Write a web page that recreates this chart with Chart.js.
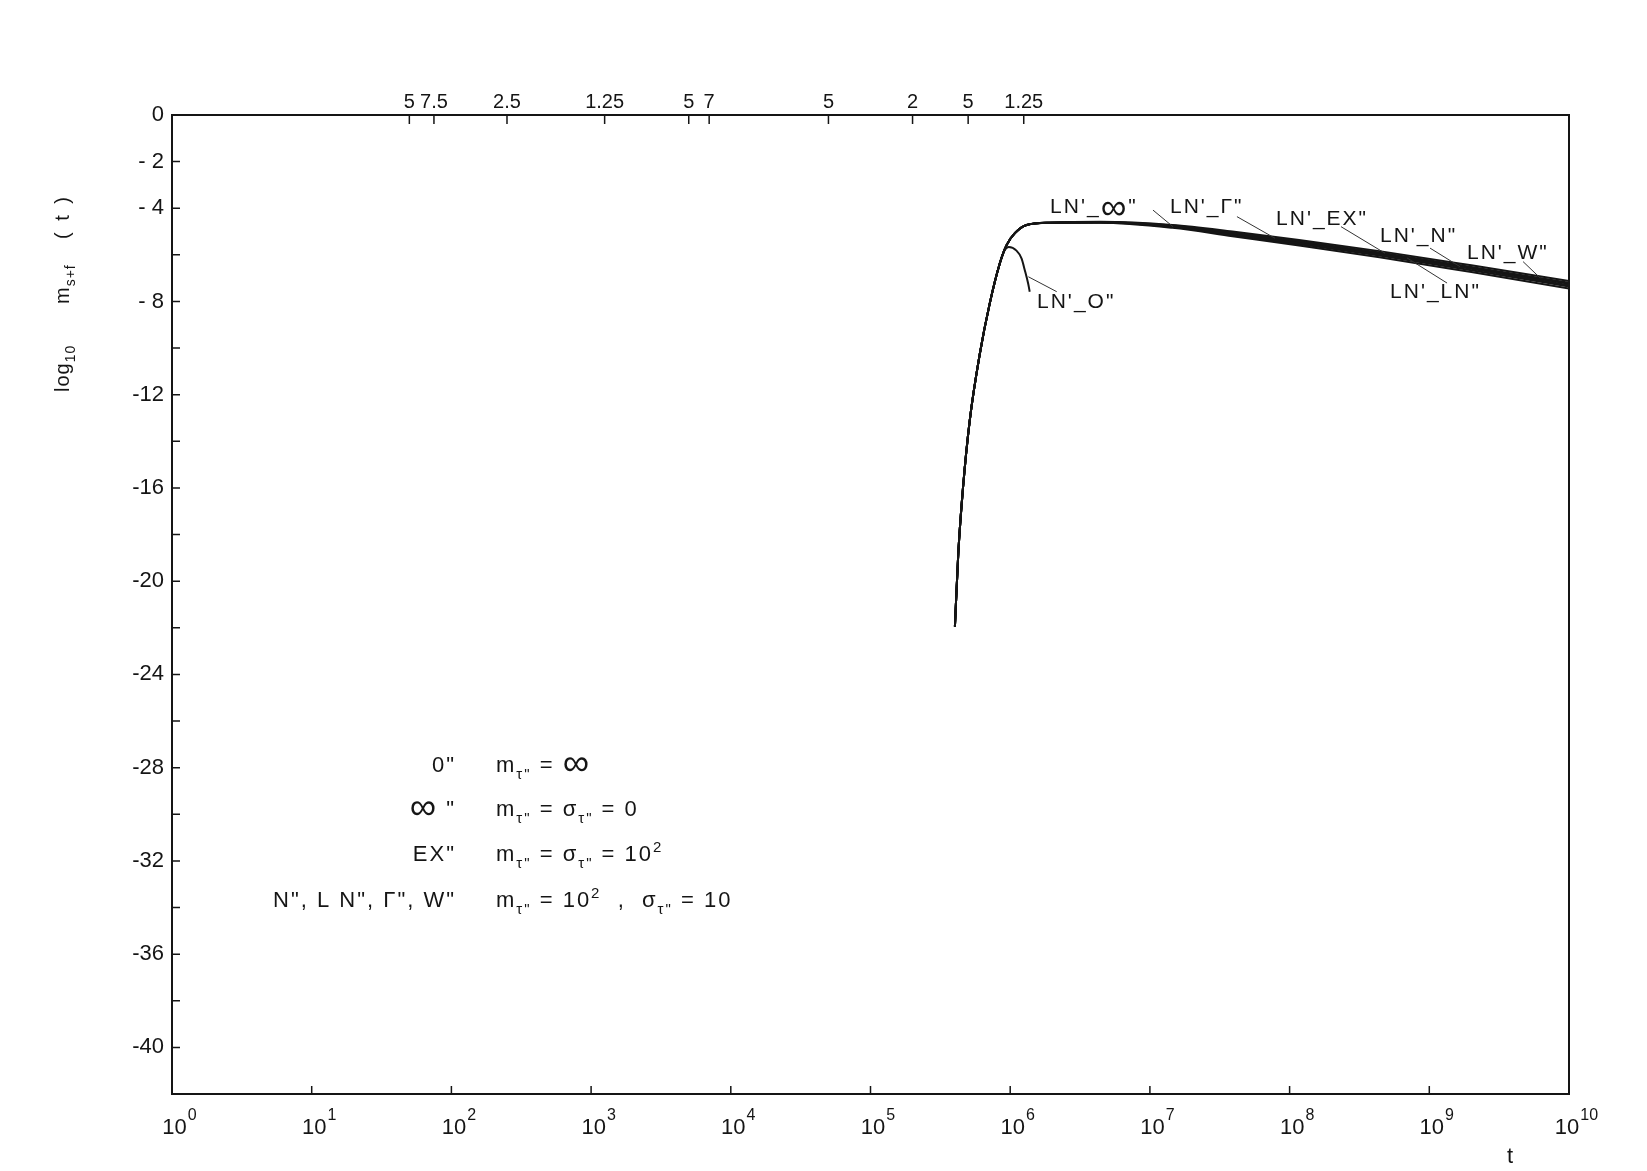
<!DOCTYPE html>
<html>
<head>
<meta charset="utf-8">
<script src="https://cdn.jsdelivr.net/npm/chart.js@4.4.1/dist/chart.umd.min.js"></script>
<style>
  html, body { margin: 0; padding: 0; background: #ffffff; }
  #wrap { width: 1647px; height: 1171px; }
</style>
</head>
<body>
<div id="wrap"><canvas id="c" width="1647" height="1171"></canvas></div>
<script>
// ---------------- DATA ----------------
// bottom axis (t, log scale): tick values, mantissa text and exponent text
const bottomTickValues = [1, 10, 100, 1e3, 1e4, 1e5, 1e6, 1e7, 1e8, 1e9, 1e10];
const bottomTickBase = "10";
const bottomTickExponents = ["0", "1", "2", "3", "4", "5", "6", "7", "8", "9", "10"];
// top axis (secondary labels)
const topTickValues = [50, 75, 250, 1250, 5000, 7000, 5e4, 2e5, 5e5, 1.25e6];
const topTickLabels = ["5", "7.5", "2.5", "1.25", "5", "7", "5", "2", "5", "1.25"];
// left axis
const yTickValues = [0, -2, -4, -6, -8, -10, -12, -14, -16, -18, -20, -22, -24, -26, -28, -30, -32, -34, -36, -38, -40, -42];
const yLabelValues = [0, -2, -4, -8, -12, -16, -20, -24, -28, -32, -36, -40];
const yLabelTexts = ["0", "- 2", "- 4", "- 8", "-12", "-16", "-20", "-24", "-28", "-32", "-36", "-40"];

// time points (t) shared by the LN' curves
const tMain = [4.02e5, 4.25e5, 4.6e5, 5.14e5, 6.07e5, 7.14e5, 8.43e5, 9.42e5, 1.08e6, 1.31e6, 1.92e6,
               4.4e6, 1.45e7, 3.9e7, 1.17e8, 4.4e8, 2.0e9, 1.0e10];
const lnInf = [-21.95, -18.80, -15.95, -13.08, -10.22, -8.08, -6.36, -5.58, -5.07, -4.72, -4.62,
               -4.59, -4.74, -5.05, -5.42, -5.90, -6.52, -7.20];
const lnGamma = [-21.95, -18.80, -15.95, -13.08, -10.22, -8.08, -6.36, -5.58, -5.07, -4.72, -4.62,
               -4.60, -4.78, -5.12, -5.50, -5.98, -6.60, -7.30];
const lnEX = [-21.95, -18.80, -15.95, -13.08, -10.22, -8.08, -6.36, -5.58, -5.07, -4.72, -4.62,
               -4.60, -4.76, -5.08, -5.46, -5.94, -6.56, -7.24];
const lnN = [-21.95, -18.80, -15.95, -13.08, -10.22, -8.08, -6.36, -5.58, -5.07, -4.72, -4.62,
               -4.61, -4.80, -5.15, -5.54, -6.03, -6.66, -7.36];
const lnW = [-21.95, -18.80, -15.95, -13.08, -10.22, -8.08, -6.36, -5.58, -5.07, -4.72, -4.62,
               -4.58, -4.72, -5.00, -5.36, -5.84, -6.45, -7.12];
const lnLN = [-21.95, -18.80, -15.95, -13.08, -10.22, -8.08, -6.36, -5.58, -5.07, -4.72, -4.62,
               -4.62, -4.84, -5.20, -5.60, -6.10, -6.74, -7.44];
// LN'_O curve
const tO = [4.02e5, 4.25e5, 4.6e5, 5.14e5, 6.07e5, 7.14e5, 8.43e5, 9.12e5, 9.77e5, 1.109e6, 1.205e6, 1.271e6, 1.343e6, 1.38e6];
const lnO = [-21.95, -18.80, -15.95, -13.08, -10.22, -8.08, -6.36, -5.80, -5.66, -5.82, -6.15, -6.65, -7.22, -7.58];

// curve labels (callouts): text, text anchor, leader line start/end  [t, value]
const calloutTexts = ["LN'_∞\"", "LN'_Γ\"", "LN'_EX\"", "LN'_N\"", "LN'_W\"", "LN'_LN\"", "LN'_O\""];
const calloutTextAt = [[1.93e6, -3.97], [1.393e7, -3.95], [8.0e7, -4.48], [4.436e8, -5.19], [1.862e9, -5.92], [5.236e8, -7.59], [1.556e6, -8.02]];
const calloutFrom = [[1.052e7, -4.08], [4.198e7, -4.36], [2.333e8, -4.79], [1.012e9, -5.71], [4.69e9, -6.29], [1.34e9, -7.21], [1.349e6, -6.94]];
const calloutTo = [[1.462e7, -4.79], [7.87e7, -5.29], [4.82e8, -5.93], [1.66e9, -6.51], [6.21e9, -6.99], [6.92e8, -6.13], [2.153e6, -7.58]];

// key text block
const keyLeft = ["0\"", "∞ \"", "EX\"", "N\", L N\", Γ\", W\""];
const keyRight = [
  [["m", "n"], ["τ\"", "sub"], [" = ∞", "n"]],
  [["m", "n"], ["τ\"", "sub"], [" = σ", "n"], ["τ\"", "sub"], [" = 0", "n"]],
  [["m", "n"], ["τ\"", "sub"], [" = σ", "n"], ["τ\"", "sub"], [" = 10", "n"], ["2", "sup"]],
  [["m", "n"], ["τ\"", "sub"], [" = 10", "n"], ["2", "sup"], ["  ,  σ", "n"], ["τ\"", "sub"], [" = 10", "n"]]
];

// ---------------- CHART ----------------
const FONT = '"Liberation Sans", Arial, "DejaVu Sans", sans-serif';
const INK = '#151515';

function pts(ts, vs) { return ts.map((t, i) => ({ x: t, y: vs[i] })); }

const lineStyle = { borderColor: INK, borderWidth: 2, pointRadius: 0, fill: false, cubicInterpolationMode: 'monotone' };

const datasets = [
  Object.assign({ label: "LN'_∞", data: pts(tMain, lnInf) }, lineStyle),
  Object.assign({ label: "LN'_Γ", data: pts(tMain, lnGamma) }, lineStyle),
  Object.assign({ label: "LN'_EX", data: pts(tMain, lnEX) }, lineStyle),
  Object.assign({ label: "LN'_N", data: pts(tMain, lnN) }, lineStyle),
  Object.assign({ label: "LN'_W", data: pts(tMain, lnW) }, lineStyle),
  Object.assign({ label: "LN'_LN", data: pts(tMain, lnLN) }, lineStyle),
  Object.assign({ label: "LN'_O", data: pts(tO, lnO) }, lineStyle)
];

// draw a string where the ∞ sign is enlarged (as in the original lettering)
function textWidthInf(ctx, txt, size) {
  let w = 0;
  const segs = txt.split('∞');
  segs.forEach((s, i) => {
    ctx.font = size + 'px ' + FONT; w += ctx.measureText(s).width;
    if (i < segs.length - 1) { ctx.font = Math.round(size * 1.7) + 'px ' + FONT; w += ctx.measureText('∞').width; }
  });
  return w;
}
function drawInf(ctx, txt, x, y, size) {
  let cx = x;
  const segs = txt.split('∞');
  segs.forEach((s, i) => {
    ctx.font = size + 'px ' + FONT; ctx.fillText(s, cx, y); cx += ctx.measureText(s).width;
    if (i < segs.length - 1) {
      ctx.font = Math.round(size * 1.7) + 'px ' + FONT;
      const dy = ctx.textBaseline === 'middle' ? size * 0.05 : size * 0.12;
      ctx.fillText('∞', cx, y + dy); cx += ctx.measureText('∞').width;
    }
  });
  return cx - x;
}
function drawRich(ctx, x, y, parts, size) {
  let cx = x;
  for (const [txt, kind] of parts) {
    let fs = size, dy = 0;
    if (kind === 'sub') { fs = Math.round(size * 0.68); dy = size * 0.32; }
    if (kind === 'sup') { fs = Math.round(size * 0.68); dy = -size * 0.42; }
    cx += drawInf(ctx, txt, cx, y + dy, fs);
  }
  return cx - x;
}

const decorPlugin = {
  id: 'decor',
  afterDraw(chart) {
    const ctx = chart.ctx;
    const a = chart.chartArea;
    const sx = chart.scales.x, sy = chart.scales.y, st = chart.scales.x2;
    ctx.save();
    // frame
    ctx.strokeStyle = INK;
    ctx.lineWidth = 2;
    ctx.strokeRect(a.left, a.top, a.right - a.left, a.bottom - a.top);
    // inward tick marks
    ctx.lineWidth = 1.5;
    ctx.beginPath();
    sx.ticks.forEach(tk => { const p = sx.getPixelForValue(tk.value); ctx.moveTo(p, a.bottom); ctx.lineTo(p, a.bottom - 8); });
    st.ticks.forEach(tk => { const p = st.getPixelForValue(tk.value); ctx.moveTo(p, a.top); ctx.lineTo(p, a.top + 9); });
    sy.ticks.forEach(tk => { const p = sy.getPixelForValue(tk.value); ctx.moveTo(a.left, p); ctx.lineTo(a.left + 8, p); });
    ctx.stroke();

    ctx.fillStyle = INK;
    // bottom tick labels: 10 with raised exponent, centred on each decade
    ctx.textBaseline = 'alphabetic';
    ctx.textAlign = 'left';
    ctx.letterSpacing = '0px';
    sx.ticks.forEach((tk, i) => {
      const p = sx.getPixelForValue(tk.value);
      ctx.font = '22px ' + FONT;
      const wb = ctx.measureText(bottomTickBase).width;
      ctx.font = '16px ' + FONT;
      const we = ctx.measureText(bottomTickExponents[i]).width;
      const x0 = p - (wb + we) / 2 + 7;
      ctx.font = '22px ' + FONT;
      ctx.fillText(bottomTickBase, x0, 1134);
      ctx.font = '16px ' + FONT;
      ctx.fillText(bottomTickExponents[i], x0 + wb + 1, 1120);
    });

    // callouts
    ctx.strokeStyle = '#333';
    ctx.lineWidth = 1;
    ctx.beginPath();
    for (let i = 0; i < calloutTexts.length; i++) {
      ctx.moveTo(sx.getPixelForValue(calloutFrom[i][0]), sy.getPixelForValue(calloutFrom[i][1]));
      ctx.lineTo(sx.getPixelForValue(calloutTo[i][0]), sy.getPixelForValue(calloutTo[i][1]));
    }
    ctx.stroke();
    ctx.textBaseline = 'middle';
    ctx.textAlign = 'left';
    ctx.letterSpacing = '2px';
    for (let i = 0; i < calloutTexts.length; i++) {
      drawInf(ctx, calloutTexts[i], sx.getPixelForValue(calloutTextAt[i][0]), sy.getPixelForValue(calloutTextAt[i][1]), 21);
    }

    // key text block
    ctx.textBaseline = 'alphabetic';
    const rowBase = [772, 816, 861, 907];
    ctx.letterSpacing = '2px';
    for (let r = 0; r < keyLeft.length; r++) {
      const w = textWidthInf(ctx, keyLeft[r], 22);
      drawInf(ctx, keyLeft[r], 456 - w, rowBase[r], 22);
      drawRich(ctx, 496, rowBase[r], keyRight[r], 22);
    }

    // y-axis title (rotated)
    ctx.letterSpacing = '1px';
    ctx.save();
    ctx.translate(69, 392);
    ctx.rotate(-Math.PI / 2);
    drawRich(ctx, 0, 0, [["log", "n"], ["10", "sub"]], 20);
    drawRich(ctx, 88, 0, [["m", "n"], ["s+f", "sub"]], 20);
    ctx.letterSpacing = '3px';
    drawRich(ctx, 153, 0, [["( t )", "n"]], 20);
    ctx.restore();

    // x-axis title
    ctx.letterSpacing = '0px';
    ctx.font = '22px ' + FONT;
    ctx.textAlign = 'center';
    ctx.textBaseline = 'middle';
    ctx.fillText('t', 1510, 1157);
    ctx.restore();
  }
};

new Chart(document.getElementById('c'), {
  type: 'line',
  data: { datasets },
  plugins: [decorPlugin],
  options: {
    responsive: false,
    animation: false,
    layout: { padding: { left: 0, top: 0, right: 78, bottom: 0 } },
    plugins: { legend: { display: false }, tooltip: { enabled: false }, title: { display: false } },
    scales: {
      x: {
        type: 'logarithmic', position: 'bottom', min: 1, max: 1e10,
        afterBuildTicks: s => { s.ticks = bottomTickValues.map(v => ({ value: v })); },
        afterFit: s => { s.height = 77; },
        grid: { display: false, drawTicks: false },
        border: { display: false },
        ticks: { display: false, autoSkip: false, maxRotation: 0, minRotation: 0 }
      },
      x2: {
        type: 'logarithmic', position: 'top', min: 1, max: 1e10,
        afterBuildTicks: s => { s.ticks = topTickValues.map(v => ({ value: v })); },
        afterFit: s => { s.height = 115; },
        grid: { display: false, drawTicks: false },
        border: { display: false },
        ticks: {
          autoSkip: false, maxRotation: 0, minRotation: 0, padding: 1,
          color: INK, font: { family: FONT, size: 20 },
          callback: (v, i) => topTickLabels[i]
        }
      },
      y: {
        type: 'linear', position: 'left', min: -42, max: 0,
        afterBuildTicks: s => { s.ticks = yTickValues.map(v => ({ value: v })); },
        afterFit: s => { s.width = 172; },
        grid: { display: false, drawTicks: false },
        border: { display: false },
        ticks: {
          autoSkip: false, padding: 8,
          color: INK, font: { family: FONT, size: 22 },
          callback: (v) => { const k = yLabelValues.indexOf(v); return k >= 0 ? yLabelTexts[k] : ''; }
        }
      }
    }
  }
});
</script>
</body>
</html>
